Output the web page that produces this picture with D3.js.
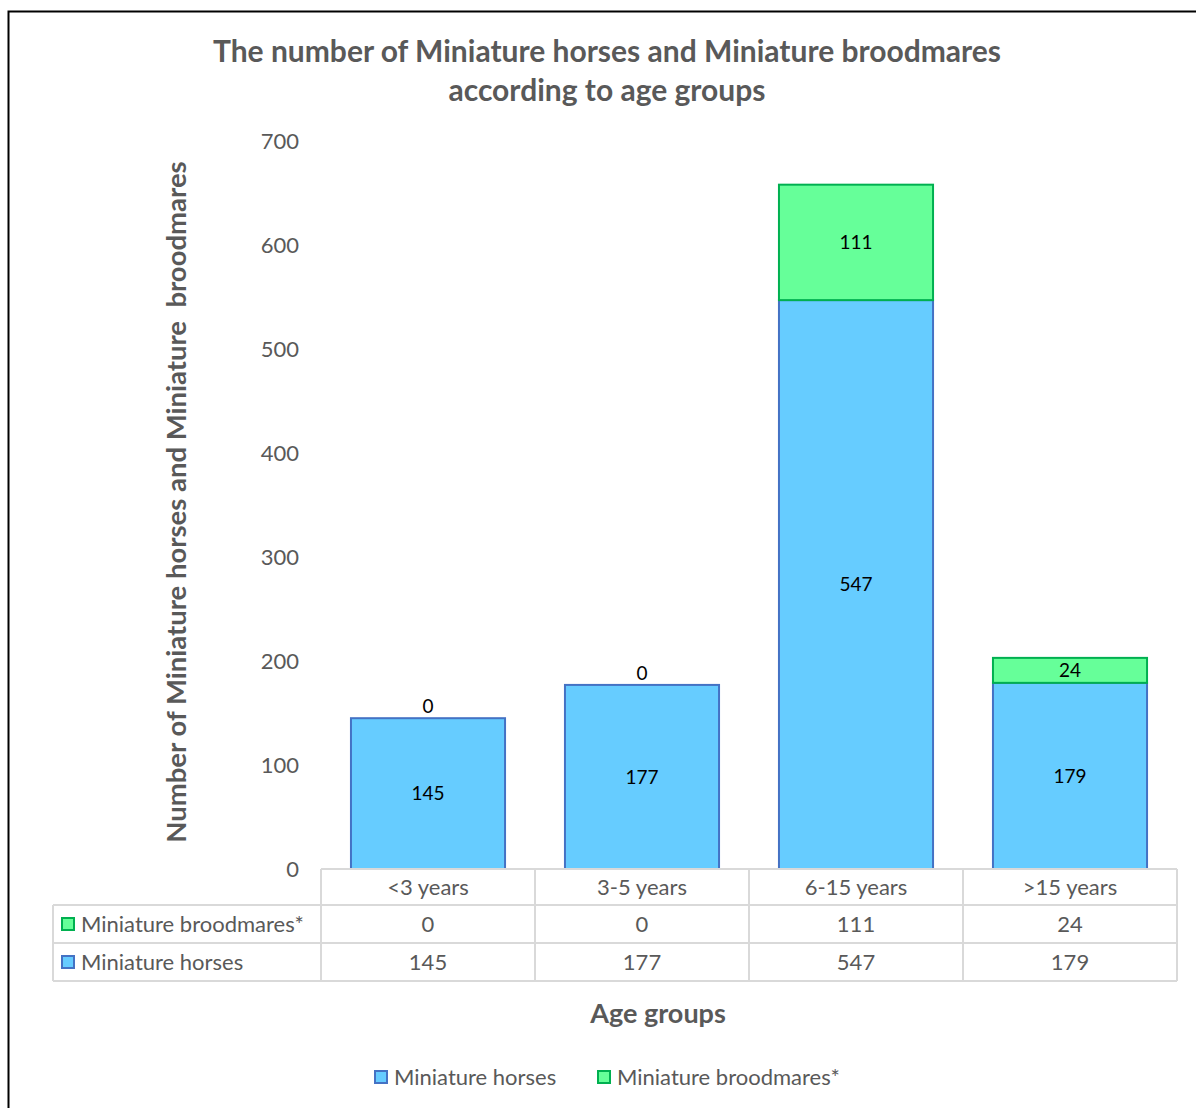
<!DOCTYPE html>
<html>
<head>
<meta charset="utf-8">
<script src="https://cdn.jsdelivr.net/npm/d3@7"></script>
<style>
  body { margin: 0; background: #fff; }
  svg text { font-family: Lato, "Open Sans", sans-serif; }
</style>
</head>
<body>
<script>
const width = 1196;
const height = 1108;

// Data
const ageGroups = ['<3 years', '3-5 years', '6-15 years', '>15 years'];
const horses = [145, 177, 547, 179];
const broodmares = [0, 0, 111, 24];
const yTicks = [0, 100, 200, 300, 400, 500, 600, 700];
const seriesNames = ['Miniature horses', 'Miniature broodmares*'];

const blueFill = '#66CCFF', blueStroke = '#4472C4';
const greenFill = '#66FF99', greenStroke = '#00B050';
const textGrey = '#595959';
const gridGrey = '#D9D9D9';

const svg = d3.select('body')
  .append('svg')
  .attr('width', width)
  .attr('height', height);

// outer frame
svg.append('rect')
  .attr('x', 8.5).attr('y', 11.5)
  .attr('width', 1300).attr('height', 1300)
  .attr('fill', 'none')
  .attr('stroke', '#000')
  .attr('stroke-width', 2);

// Title
svg.append('text')
  .attr('x', 607).attr('y', 62)
  .attr('text-anchor', 'middle')
  .style('font-size', '30px').style('font-weight', 'bold')
  .attr('fill', textGrey)
  .text('The number of Miniature horses and Miniature broodmares');
svg.append('text')
  .attr('x', 607).attr('y', 101)
  .attr('text-anchor', 'middle')
  .style('font-size', '30px').style('font-weight', 'bold')
  .attr('fill', textGrey)
  .text('according to age groups');

// Scales
const x = d3.scaleBand()
  .domain(ageGroups)
  .range([321, 1177])
  .paddingInner(0.28)
  .paddingOuter(0.14);
const y = d3.scaleLinear()
  .domain([0, 700])
  .range([869, 141]);

// Y axis
const yAxis = d3.axisLeft(y)
  .tickValues(yTicks)
  .tickSize(0)
  .tickPadding(0);
const yg = svg.append('g')
  .attr('transform', 'translate(299,0)')
  .call(yAxis);
yg.select('.domain').remove();
yg.selectAll('text')
  .style('font-size', '22px')
  .attr('fill', textGrey)
  .attr('dy', '0.32em');

// Y title
svg.append('text')
  .attr('transform', 'translate(186,502) rotate(-90)')
  .attr('text-anchor', 'middle')
  .style('font-size', '27.5px').style('font-weight', 'bold')
  .attr('fill', textGrey)
  .style('white-space', 'pre')
  .text('Number of Miniature horses and Miniature  broodmares');

// Stack
const stackData = ageGroups.map((g, i) => ({ group: g, horses: horses[i], broodmares: broodmares[i] }));
const stacked = d3.stack().keys(['horses', 'broodmares'])(stackData);
const fills = { horses: blueFill, broodmares: greenFill };
const strokes = { horses: blueStroke, broodmares: greenStroke };

const layers = svg.append('g')
  .selectAll('g')
  .data(stacked)
  .enter()
  .append('g');

layers.selectAll('rect')
  .data(d => d.map(p => ({ key: d.key, p })))
  .enter()
  .append('rect')
  .attr('x', d => x(d.p.data.group))
  .attr('y', d => y(d.p[1]))
  .attr('width', x.bandwidth())
  .attr('height', d => y(d.p[0]) - y(d.p[1]))
  .attr('fill', d => fills[d.key])
  .attr('stroke', d => strokes[d.key])
  .attr('stroke-width', 2)
  .style('display', d => d.p[1] - d.p[0] > 0 ? null : 'none');

// Data labels
layers.selectAll('text')
  .data(d => d.map(p => ({ key: d.key, p })))
  .enter()
  .append('text')
  .attr('x', d => x(d.p.data.group) + x.bandwidth() / 2)
  .attr('y', d => {
    const v = d.p[1] - d.p[0];
    if (v === 0) return y(d.p[1]) - 12;
    return (y(d.p[0]) + y(d.p[1])) / 2;
  })
  .attr('dy', '0.35em')
  .attr('text-anchor', 'middle')
  .style('font-size', '19px')
  .attr('fill', '#000')
  .text(d => d.p[1] - d.p[0]);

// Data table
const tableLeft = 53, tableRight = 1177;
const rowTops = [869, 905, 943, 981];
const tg = svg.append('g');
// horizontal lines
tg.append('line')
  .attr('x1', x.range()[0]).attr('x2', tableRight)
  .attr('y1', rowTops[0]).attr('y2', rowTops[0]);
[1, 2, 3].forEach(r => {
  tg.append('line')
    .attr('x1', tableLeft).attr('x2', tableRight)
    .attr('y1', rowTops[r]).attr('y2', rowTops[r]);
});
// vertical lines
const colEdges = ageGroups.map(g => x(g) - x.step() * x.paddingInner() / 2);
colEdges.push(tableRight);
colEdges.forEach(cx => {
  tg.append('line')
    .attr('x1', cx).attr('x2', cx)
    .attr('y1', rowTops[0]).attr('y2', rowTops[3]);
});
tg.append('line')
  .attr('x1', tableLeft).attr('x2', tableLeft)
  .attr('y1', rowTops[1]).attr('y2', rowTops[3]);
tg.selectAll('line')
  .attr('stroke', gridGrey)
  .attr('stroke-width', 2);

const cellText = (cx, cy, t, anchor) => tg.append('text')
  .attr('x', cx).attr('y', cy)
  .attr('dy', '0.35em')
  .attr('text-anchor', anchor || 'middle')
  .style('font-size', '22px')
  .attr('fill', textGrey)
  .text(t);

ageGroups.forEach((g, i) => {
  const cx = x(g) + x.bandwidth() / 2;
  cellText(cx, (rowTops[0] + rowTops[1]) / 2, g);
  cellText(cx, (rowTops[1] + rowTops[2]) / 2, broodmares[i]);
  cellText(cx, (rowTops[2] + rowTops[3]) / 2, horses[i]);
});

// row headers with keys
const rowHeads = [
  { name: seriesNames[1], fill: greenFill, stroke: greenStroke, r: 1 },
  { name: seriesNames[0], fill: blueFill, stroke: blueStroke, r: 2 }
];
rowHeads.forEach(h => {
  const cy = (rowTops[h.r] + rowTops[h.r + 1]) / 2;
  tg.append('rect')
    .attr('x', 62).attr('y', cy - 6)
    .attr('width', 12).attr('height', 12)
    .attr('fill', h.fill).attr('stroke', h.stroke).attr('stroke-width', 2);
  cellText(81, cy, h.name, 'start');
});

// X title
svg.append('text')
  .attr('x', 658).attr('y', 1023)
  .attr('text-anchor', 'middle')
  .style('font-size', '27px').style('font-weight', 'bold')
  .attr('fill', textGrey)
  .text('Age groups');

// Legend
const legendItems = [
  { name: seriesNames[0], fill: blueFill, stroke: blueStroke, x: 375 },
  { name: seriesNames[1], fill: greenFill, stroke: greenStroke, x: 598 }
];
const lg = svg.append('g');
legendItems.forEach(it => {
  lg.append('rect')
    .attr('x', it.x).attr('y', 1071)
    .attr('width', 12).attr('height', 12)
    .attr('fill', it.fill).attr('stroke', it.stroke).attr('stroke-width', 2);
  lg.append('text')
    .attr('x', it.x + 19).attr('y', 1077)
    .attr('dy', '0.35em')
    .style('font-size', '22px')
    .attr('fill', textGrey)
    .text(it.name);
});
</script>
</body>
</html>
